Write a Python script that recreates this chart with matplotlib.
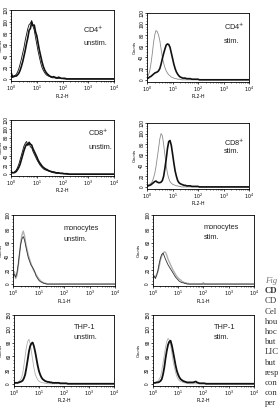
import numpy as np
import matplotlib
matplotlib.use("Agg")
import matplotlib.pyplot as plt
from matplotlib.ticker import MultipleLocator, FixedLocator, LogLocator, NullFormatter

# log10 positions of the histogram channels (shared by all curves)
LOG_X = [0.00, 0.05, 0.10, 0.15, 0.20, 0.25, 0.30, 0.35, 0.40, 0.45,
         0.50, 0.55, 0.60, 0.65, 0.70, 0.75, 0.80, 0.85, 0.90, 0.95,
         1.00, 1.05, 1.10, 1.15, 1.20, 1.25, 1.30, 1.35, 1.40, 1.45,
         1.50, 1.55, 1.60, 1.65, 1.70, 1.75, 1.80, 1.85, 1.90, 1.95,
         2.00, 2.05, 2.10, 2.15, 2.20, 2.25, 2.30, 2.35, 2.40, 2.45,
         2.50, 4.00]

# counts
cd4_unstim_a = [8, 3, 4, 5, 5, 7, 10, 15, 22, 30,
                40, 50, 62, 72, 85, 88, 99, 93, 94, 82,
                75, 62, 50, 40, 30, 22, 16, 12, 9, 7,
                5, 4, 3, 4, 3, 2, 2, 3, 2, 1,
                1, 1, 1, 0, 0, 0, 0, 0, 0, 0,
                0, 0]
cd4_unstim_b = [14, 6, 5, 6, 8, 12, 18, 26, 35, 45,
                55, 68, 78, 88, 95, 97, 102, 92, 85, 72,
                60, 48, 38, 28, 20, 15, 11, 8, 6, 5,
                4, 3, 2, 2, 2, 1, 1, 1, 1, 1,
                1, 0, 0, 0, 0, 0, 0, 0, 0, 0,
                0, 0]
cd4_stim_ctrl = [5, 8, 15, 28, 45, 65, 80, 88, 86, 80,
                 70, 55, 40, 30, 22, 16, 12, 9, 7, 5,
                 4, 3, 2, 2, 1, 1, 1, 0, 0, 0,
                 0, 0, 0, 0, 0, 0, 0, 0, 0, 0,
                 0, 0, 0, 0, 0, 0, 0, 0, 0, 0,
                 0, 0]
cd4_stim = [2, 3, 5, 6, 8, 10, 12, 13, 14, 16,
            20, 28, 38, 47, 55, 62, 64, 63, 58, 48,
            38, 28, 20, 14, 10, 7, 5, 4, 3, 3,
            3, 2, 2, 2, 2, 1, 1, 1, 1, 1,
            1, 0, 0, 0, 0, 0, 0, 0, 0, 0,
            0, 0]
cd8_unstim_a = [5, 3, 3, 4, 6, 10, 15, 22, 32, 42,
                52, 60, 66, 64, 70, 66, 64, 56, 50, 44,
                38, 31, 26, 22, 18, 15, 13, 11, 10, 8,
                7, 6, 5, 5, 4, 3, 3, 3, 2, 2,
                2, 1, 1, 1, 1, 0, 0, 0, 0, 0,
                0, 0]
cd8_unstim_b = [6, 4, 4, 6, 9, 15, 22, 32, 42, 52,
                62, 68, 72, 66, 68, 60, 58, 50, 44, 38,
                32, 27, 22, 18, 15, 12, 10, 9, 8, 7,
                6, 5, 4, 3, 3, 2, 2, 2, 2, 1,
                1, 1, 1, 0, 0, 0, 0, 0, 0, 0,
                0, 0]
cd8_stim_ctrl = [3, 4, 5, 7, 10, 16, 25, 38, 55, 72,
                 90, 100, 96, 80, 60, 40, 25, 16, 10, 7,
                 5, 4, 3, 2, 2, 1, 1, 0, 0, 0,
                 0, 0, 0, 0, 0, 0, 0, 0, 0, 0,
                 0, 0, 0, 0, 0, 0, 0, 0, 0, 0,
                 0, 0]
cd8_stim = [2, 2, 3, 4, 6, 8, 10, 11, 9, 8,
            8, 9, 12, 20, 35, 52, 72, 85, 87, 78,
            62, 45, 30, 20, 12, 8, 6, 5, 4, 3,
            3, 2, 2, 2, 2, 1, 1, 1, 1, 1,
            1, 0, 0, 0, 0, 0, 0, 0, 0, 0,
            0, 0]
mono_unstim_ctrl = [10, 18, 8, 12, 25, 42, 60, 72, 77, 70,
                    58, 50, 42, 36, 30, 25, 20, 17, 14, 11,
                    8, 6, 4, 3, 2, 1, 1, 0, 0, 0,
                    0, 0, 0, 0, 0, 0, 0, 0, 0, 0,
                    0, 0, 0, 0, 0, 0, 0, 0, 0, 0,
                    0, 0]
mono_unstim = [12, 14, 10, 16, 28, 44, 58, 66, 69, 64,
               55, 46, 38, 33, 28, 25, 22, 18, 12, 9,
               6, 4, 3, 2, 1, 1, 0, 0, 0, 0,
               0, 0, 0, 0, 0, 0, 0, 0, 0, 0,
               0, 0, 0, 0, 0, 0, 0, 0, 0, 0,
               0, 0]
mono_stim_ctrl = [8, 10, 10, 14, 18, 26, 35, 41, 44, 47,
                  46, 42, 36, 32, 28, 24, 20, 17, 14, 11,
                  9, 7, 6, 4, 3, 2, 2, 1, 1, 0,
                  0, 0, 0, 0, 0, 0, 0, 0, 0, 0,
                  2, 0, 0, 0, 0, 0, 0, 0, 0, 0,
                  0, 0]
mono_stim = [10, 12, 8, 13, 20, 30, 38, 43, 45, 41,
             36, 32, 28, 25, 22, 19, 16, 13, 10, 8,
             6, 4, 3, 2, 2, 1, 1, 0, 0, 0,
             0, 0, 0, 0, 0, 0, 0, 0, 0, 0,
             0, 0, 0, 0, 0, 0, 0, 0, 0, 0,
             0, 0]
thp_unstim_ctrl = [3, 2, 2, 3, 5, 8, 12, 22, 40, 60,
                   80, 92, 97, 88, 70, 52, 35, 22, 14, 9,
                   6, 4, 3, 2, 2, 1, 1, 0, 0, 0,
                   0, 0, 0, 0, 0, 0, 0, 0, 0, 0,
                   0, 0, 0, 0, 0, 0, 0, 0, 0, 0,
                   0, 0]
thp_unstim = [2, 2, 2, 2, 3, 4, 5, 7, 12, 20,
              35, 52, 70, 82, 88, 90, 82, 70, 55, 40,
              28, 20, 14, 10, 8, 6, 5, 4, 4, 3,
              3, 2, 2, 2, 2, 2, 2, 1, 1, 1,
              1, 1, 1, 0, 0, 0, 0, 0, 0, 0,
              0, 0]
thp_stim_ctrl = [2, 2, 3, 4, 6, 10, 15, 28, 45, 62,
                 80, 92, 99, 96, 85, 68, 50, 36, 25, 16,
                 10, 7, 5, 4, 3, 2, 2, 1, 1, 0,
                 0, 0, 0, 0, 0, 0, 0, 0, 0, 0,
                 0, 0, 0, 0, 0, 0, 0, 0, 0, 0,
                 0, 0]
thp_stim = [2, 2, 2, 3, 3, 4, 6, 10, 20, 35,
            55, 72, 85, 92, 94, 84, 70, 55, 40, 28,
            20, 14, 10, 8, 6, 5, 4, 3, 3, 3,
            3, 3, 3, 4, 5, 3, 2, 1, 1, 1,
            1, 1, 0, 0, 0, 0, 0, 0, 0, 0,
            0, 0]

caption_lines = ["Fig", "CD", "CD", "Cel", "hou", "hoc", "but", "LIC", "but",
                 "resp", "con", "con", "per"]

BLACK = "#111111"
GRAY = "#b0b0b0"
MID = "#8a8a8a"

# panel: rect, label lines, xlabel, ymax, ystep, curves, text pos, ylabel x (axes frac)
panels = [
    ([0.040, 0.801, 0.370, 0.174], ["CD4$^{+}$", "unstim."], "FL2-H", 120, 20,
     [(cd4_unstim_b, BLACK, 0.6), (cd4_unstim_a, BLACK, 1.2)], (0.70, 0.72, 0.535), -0.082),
    ([0.529, 0.799, 0.367, 0.170], ["CD4$^{+}$", "stim."], "FL2-H", 120, 20,
     [(cd4_stim_ctrl, MID, 0.6), (cd4_stim, BLACK, 1.2)], (0.755, 0.80, 0.58), -0.098),
    ([0.040, 0.568, 0.370, 0.138], ["CD8$^{+}$", "unstim."], "FL2-H", 120, 20,
     [(cd8_unstim_b, BLACK, 0.6), (cd8_unstim_a, BLACK, 1.2)], (0.75, 0.77, 0.50), -0.082),
    ([0.529, 0.536, 0.367, 0.162], ["CD8$^{+}$", "stim."], "FL2-H", 120, 20,
     [(cd8_stim_ctrl, MID, 0.6), (cd8_stim, BLACK, 1.2)], (0.755, 0.70, 0.56), -0.098),
    ([0.047, 0.297, 0.367, 0.174], ["monocytes", "unstim."], "FL1-H", 100, 20,
     [(mono_unstim_ctrl, GRAY, 1.0), (mono_unstim, "#333333", 0.6)], (0.49, 0.82, 0.66), -0.098),
    ([0.550, 0.297, 0.363, 0.174], ["monocytes", "stim."], "FL1-H", 100, 20,
     [(mono_stim_ctrl, GRAY, 1.0), (mono_stim, "#333333", 0.6)], (0.50, 0.83, 0.68), -0.125),
    ([0.050, 0.052, 0.360, 0.174], ["THP-1", "unstim."], "FL2-H", 150, 30,
     [(thp_unstim_ctrl, GRAY, 0.6), (thp_unstim, BLACK, 1.3)], (0.60, 0.82, 0.68), -0.108),
    ([0.550, 0.052, 0.363, 0.174], ["THP-1", "stim."], "FL2-H", 150, 30,
     [(thp_stim_ctrl, GRAY, 0.6), (thp_stim, BLACK, 1.3)], (0.60, 0.82, 0.68), -0.12),
]

plt.rcParams['font.family'] = ['Liberation Sans', 'DejaVu Sans']

fig = plt.figure(figsize=(2.78, 4.07), dpi=100)

x = 10 ** np.array(LOG_X)

for rect, title, xlab, ymax, ystep, curves, txt, ylx in panels:
    ax = fig.add_axes(rect)
    for data, color, lw in curves:
        ax.plot(x, data, color=color, lw=lw)
    ax.set_xscale("log")
    ax.set_xlim(1, 1e4)
    ax.set_ylim(-ymax * 0.03, ymax)
    ax.xaxis.set_major_locator(FixedLocator([1, 10, 100, 1000, 10000]))
    ax.set_xticklabels([r"$10^{0}$", r"$10^{1}$", r"$10^{2}$", r"$10^{3}$", r"$10^{4}$"])
    ax.xaxis.set_minor_locator(LogLocator(base=10, subs=np.arange(2, 10)))
    ax.xaxis.set_minor_formatter(NullFormatter())
    ax.yaxis.set_major_locator(MultipleLocator(ystep))
    ax.yaxis.set_minor_locator(MultipleLocator(ystep / 4))
    ax.tick_params(which="major", length=1.5, width=0.5, labelsize=3.4, pad=0.4)
    ax.tick_params(which="minor", length=0.9, width=0.4)
    for lab in ax.get_yticklabels():
        lab.set_rotation(90)
        lab.set_va("center")
    for s in ax.spines.values():
        s.set_linewidth(0.6)
    ax.set_xlabel(xlab, fontsize=3.5, labelpad=0.5)
    ax.set_ylabel("Counts", fontsize=3.0)
    ax.yaxis.set_label_coords(ylx, 0.5)
    tx, ty1, ty2 = txt
    ax.text(tx, ty1, title[0], transform=ax.transAxes, fontsize=5.3, va="center", color="#222222")
    ax.text(tx, ty2, title[1], transform=ax.transAxes, fontsize=5.3, va="center", color="#222222")

# cropped caption on the right edge
for i, line in enumerate(caption_lines):
    style = "italic" if i == 0 else "normal"
    weight = "bold" if i == 1 else "normal"
    color = "#777777" if i == 0 else "#333333"
    fig.text(265 / 278, 1 - (281 + i * 10.2) / 407, line, fontsize=6.3,
             family=["Liberation Serif", "DejaVu Serif"], style=style,
             weight=weight, color=color, va="center")

fig.savefig("out.png", dpi=100)
